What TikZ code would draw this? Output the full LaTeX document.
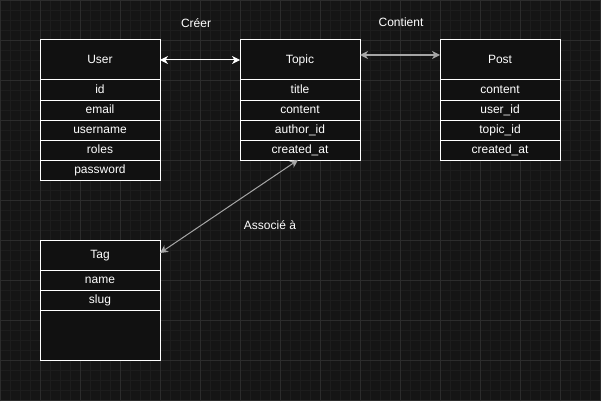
\documentclass[tikz,border=0pt]{standalone}
\usepackage{fontspec}
\setmainfont{Liberation Sans}
\usetikzlibrary{positioning,arrows.meta}
\usepackage{xcolor}

\definecolor{bgdark}{HTML}{151515}
\definecolor{boxfill}{HTML}{111111}
\definecolor{gridminor}{HTML}{1D1D1D}
\definecolor{gridmajor}{HTML}{2C2C2C}
\definecolor{linkgray}{HTML}{A6A6A6}

\tikzset{
  entityhead/.style={draw=white, fill=boxfill, text=white, line width=1pt,
    minimum width=120pt, minimum height=40pt, inner sep=0pt, outer sep=0pt,
    text height=8.6pt, text depth=2.4pt,
    font=\fontsize{12}{14}\selectfont},
  entityrow/.style={entityhead, minimum height=20pt},
  linklabel/.style={text=white, font=\fontsize{12}{14}\selectfont},
  linkarrow/.style={<->, line width=1pt},
}

\begin{document}
\begin{tikzpicture}[x=1pt,y=-1pt,>={Stealth[length=8pt,width=8pt,inset=2.5pt]}]
\useasboundingbox (0,0) rectangle (601,401);
% background and grid
\fill[bgdark] (0,0) rectangle (601,401);
\draw[gridminor, line width=0.6pt] (0,0) grid[step=10pt] (601,401);
\draw[gridmajor, line width=0.8pt] (0,0) grid[step=40pt] (601,401);

% entities
\node[entityhead] (user-0) at (100,60) {User};
\foreach \f [count=\i] in {id,email,username,roles,password} {
  \pgfmathtruncatemacro\j{\i-1}
  \node[entityrow, below=0pt of user-\j] (user-\i) {\f};
}

\node[entityhead] (topic-0) at (300,60) {Topic};
\foreach \f [count=\i] in {title,content,author\_id,created\_at} {
  \pgfmathtruncatemacro\j{\i-1}
  \node[entityrow, below=0pt of topic-\j] (topic-\i) {\f};
}

\node[entityhead] (post-0) at (500,60) {Post};
\foreach \f [count=\i] in {content,user\_id,topic\_id,created\_at} {
  \pgfmathtruncatemacro\j{\i-1}
  \node[entityrow, below=0pt of post-\j] (post-\i) {\f};
}

\node[entityhead, minimum height=30pt] (tag-0) at (100,255) {Tag};
\foreach \f [count=\i] in {name,slug} {
  \pgfmathtruncatemacro\j{\i-1}
  \node[entityrow, below=0pt of tag-\j] (tag-\i) {\f};
}
\node[entityrow, minimum height=50pt, below=0pt of tag-2] (tag-3) {};

% relations
\draw[linkarrow, white] (user-0.east) -- (topic-0.west);
\draw[linkarrow, linkgray, line width=2pt, arrows={<[fill=white]->[fill=white]}]
  ([yshift=5pt]topic-0.east) -- ([yshift=5pt]post-0.west);
\draw[linkarrow, linkgray] ([xshift=-2pt]topic-4.south) -- ([yshift=2pt]tag-0.east);

% labels
\node[linklabel] (lbl-creer) at (196,23) {Créer};
\node[linklabel] (lbl-contient) at (401,22) {Contient};
\node[linklabel] (lbl-associe) at (270,225) {Associé à};
\end{tikzpicture}
\end{document}
